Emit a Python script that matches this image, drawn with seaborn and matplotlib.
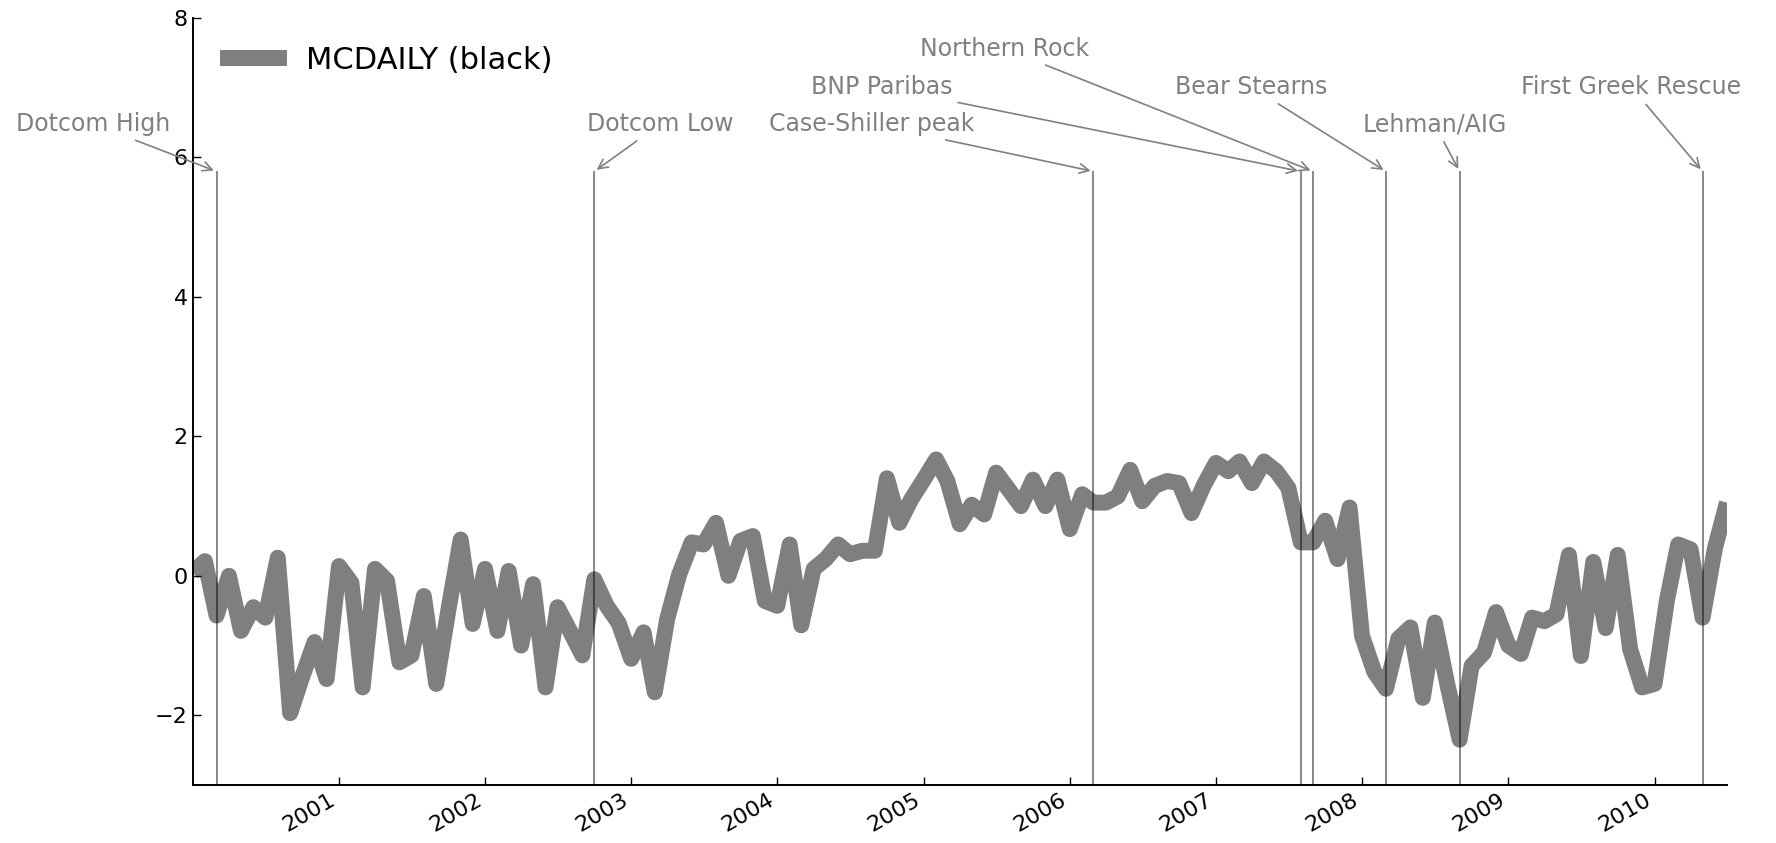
import pandas as pd
import numpy as np
import matplotlib
matplotlib.use('Agg')
import matplotlib.pyplot as plt
import matplotlib.dates as mdates
import seaborn as sns

# monthly series, Jan 2000 .. Jul 2010
start_month = '2000-01-01'
n_months = 127
mcdaily = [
    0.05, 0.21, -0.57, 0.00, -0.79, -0.45, -0.60, 0.26, -1.97, -1.45, -0.95, -1.48,
    0.14, -0.10, -1.60, 0.10, -0.07, -1.24, -1.14, -0.29, -1.55, -0.50, 0.52, -0.69,
    0.10, -0.79, 0.07, -1.00, -0.12, -1.60, -0.45, -0.79, -1.14, -0.05, -0.43, -0.68,
    -1.19, -0.81, -1.67, -0.62, 0.02, 0.48, 0.45, 0.76, 0.00, 0.50, 0.57, -0.36,
    -0.43, 0.45, -0.71, 0.10, 0.24, 0.45, 0.31, 0.36, 0.36, 1.40, 0.76, 1.10,
    1.38, 1.67, 1.36, 0.74, 1.02, 0.88, 1.48, 1.24, 1.00, 1.38, 1.00, 1.38,
    0.67, 1.17, 1.05, 1.05, 1.14, 1.52, 1.07, 1.29, 1.36, 1.33, 0.90, 1.29,
    1.62, 1.50, 1.64, 1.33, 1.64, 1.50, 1.26, 0.48, 0.48, 0.79, 0.24, 0.98,
    -0.86, -1.38, -1.62, -0.90, -0.74, -1.75, -0.67, -1.55, -2.35, -1.29, -1.10, -0.52,
    -1.00, -1.12, -0.60, -0.65, -0.55, 0.30, -1.15, 0.20, -0.75, 0.30, -1.05, -1.60,
    -1.55, -0.35, 0.45, 0.38, -0.60, 0.40, 1.05,
]

# events: label, date of vertical line, text position (date, y)
event_labels = ['Dotcom High', 'Dotcom Low', 'Case-Shiller peak', 'BNP Paribas',
                'Northern Rock', 'Bear Stearns', 'Lehman/AIG', 'First Greek Rescue']
event_dates = ['2000-03-01', '2002-10-01', '2006-03-01', '2007-08-01',
               '2007-09-01', '2008-03-01', '2008-09-01', '2010-05-01']
label_dates = ['1999-04-28', '2003-03-15', '2004-08-23', '2004-09-17',
               '2005-07-22', '2007-03-31', '2008-06-30', '2009-11-04']
label_y = [6.48, 6.48, 6.48, 7.01, 7.56, 7.01, 6.48, 7.01]
line_top = 5.8

year_ticks = [str(y) for y in range(2001, 2011)]
y_ticks = [-2, 0, 2, 4, 6, 8]

df = pd.DataFrame({
    'date': pd.date_range(start_month, periods=n_months, freq='MS'),
    'MCDAILY': mcdaily,
})

sns.set_style('ticks')
plt.rcParams['font.family'] = ['DejaVu Sans']
plt.rcParams['xtick.direction'] = 'in'
plt.rcParams['ytick.direction'] = 'in'
plt.rcParams['lines.solid_capstyle'] = 'butt'

fig, ax = plt.subplots(figsize=(17.76, 8.43), dpi=100)
fig.subplots_adjust(left=0.1084, right=0.9724, top=0.9786, bottom=0.0688)

sns.lineplot(data=df, x='date', y='MCDAILY', ax=ax, color='black', alpha=0.5,
             linewidth=11.5, label='MCDAILY (black)')

ylo, yhi = -3, 8
for lab, d, td, ty in zip(event_labels, event_dates, label_dates, label_y):
    d = pd.Timestamp(d)
    ax.vlines(d, ylo, line_top, color='black', alpha=0.5, linewidth=1.3)
    ax.annotate(lab, xy=(d, line_top), xytext=(pd.Timestamp(td), ty),
                ha='center', va='center', fontsize=17, color='gray',
                arrowprops=dict(arrowstyle='->', color='gray', lw=1.2),
                annotation_clip=False)

ax.set_ylim(ylo, yhi)
ax.set_yticks(y_ticks)
ax.set_xlim(df['date'].iloc[0], df['date'].iloc[-1])
ax.set_xticks(pd.to_datetime([y + '-01-01' for y in year_ticks]))
ax.xaxis.set_major_formatter(mdates.DateFormatter('%Y'))
plt.setp(ax.get_xticklabels(), rotation=30, ha='right')
ax.tick_params(labelsize=16, length=6, width=1, colors='black')
ax.set_xlabel('')
ax.set_ylabel('')

sns.despine(ax=ax)
for s in ['left', 'bottom']:
    ax.spines[s].set_linewidth(1.4)
    ax.spines[s].set_color('black')

leg = ax.legend(loc='upper left', frameon=False, fontsize=22, handlelength=2.2,
                handletextpad=0.6, borderaxespad=0.5)
for t in leg.get_texts():
    t.set_color('black')

plt.savefig('out.png', dpi=100)
plt.close()
